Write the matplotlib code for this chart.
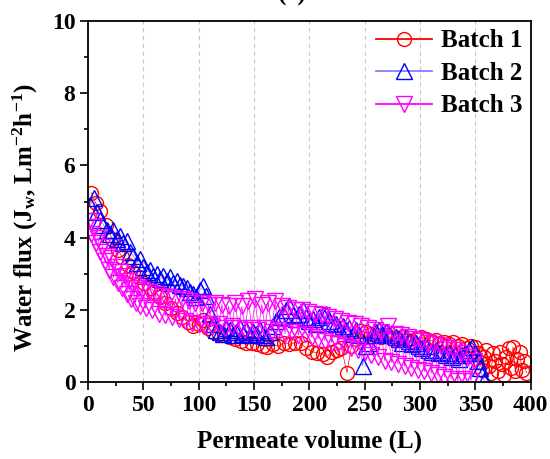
import matplotlib
matplotlib.use("Agg")
import matplotlib.pyplot as plt
from matplotlib.lines import Line2D
from matplotlib.ticker import MultipleLocator

# Serif bold text everywhere, mathtext follows the same font
plt.rcParams["font.family"] = ["Liberation Serif", "DejaVu Serif"]
plt.rcParams["font.weight"] = "bold"
plt.rcParams["mathtext.fontset"] = "custom"
plt.rcParams["mathtext.rm"] = "Liberation Serif:bold"
plt.rcParams["mathtext.it"] = "Liberation Serif:bold"
plt.rcParams["mathtext.bf"] = "Liberation Serif:bold"

# Batch 1: permeate volume (L) and water flux
vol_b1 = [3, 7, 11, 16, 22, 27, 31, 36, 41, 46, 51, 56, 60, 65, 70, 75, 80, 85,
          90, 95, 100, 104, 108, 113, 118, 123, 128, 133, 138, 143, 148, 153,
          158, 162, 167, 172, 177, 182, 187, 192, 197, 202, 207, 212, 216, 220,
          225, 229, 234, 238, 242, 247, 251, 256, 260, 265, 270, 274, 279, 283,
          288, 292, 297, 301, 305, 310, 314, 318, 322, 326, 330, 334, 338, 342,
          346, 350, 352, 354, 356, 358, 360, 362, 364, 366, 368, 370, 372, 374,
          376, 378, 380, 382, 384, 386, 388, 390, 392, 394, 396]
flux_b1 = [5.24, 4.95, 4.74, 4.35, 3.95, 3.65, 3.47, 3.25, 3.05, 2.9, 2.75, 2.62,
           2.5, 2.35, 2.2, 2.05, 1.92, 1.8, 1.67, 1.55, 1.6, 1.72, 1.5, 1.4, 1.35,
           1.3, 1.25, 1.2, 1.15, 1.1, 1.08, 1.05, 1.0, 0.98, 1.05, 1.0, 1.1, 1.05,
           1.1, 1.08, 0.95, 0.85, 0.82, 0.78, 0.7, 0.85, 0.9, 0.95, 0.27, 1.0,
           1.2, 1.42, 1.38, 1.35, 1.3, 1.25, 1.3, 1.22, 1.2, 1.25, 1.18, 1.15,
           1.22, 1.26, 1.2, 1.15, 1.18, 1.1, 1.12, 1.05, 1.12, 1.0, 1.05, 0.95,
           1.0, 0.98, 0.8, 0.55, 0.35, 0.7, 0.9, 0.45, 0.25, 0.8, 0.6, 0.3, 0.85,
           0.5, 0.2, 0.7, 0.95, 0.4, 0.98, 0.3, 0.65, 0.85, 0.35, 0.6, 0.27]

# Batch 2
vol_b2 = [2, 5, 8, 11, 14, 17, 20, 23, 26, 29, 32, 35, 38, 41, 44, 47, 50, 53,
          56, 59, 62, 65, 68, 71, 74, 77, 80, 83, 86, 89, 92, 95, 98, 101, 104,
          107, 110, 113, 116, 119, 122, 125, 128, 131, 134, 137, 140, 143, 146,
          149, 152, 155, 158, 161, 164, 167, 170, 173, 176, 179, 182, 185, 188,
          191, 194, 197, 200, 203, 206, 209, 212, 215, 218, 221, 224, 227, 230,
          233, 236, 239, 242, 245, 248, 251, 254, 257, 260, 263, 266, 269, 272,
          275, 278, 281, 284, 287, 290, 293, 296, 299, 302, 305, 308, 311, 314,
          317, 320, 323, 326, 329, 332, 335, 338, 341, 344, 347, 350, 352, 354,
          356, 358]
flux_b2 = [4.9, 5.1, 4.7, 4.5, 4.35, 4.2, 4.1, 4.2, 3.95, 4.05, 3.85, 3.9, 3.6,
           3.5, 3.3, 3.4, 3.2, 3.05, 3.1, 2.95, 3.0, 2.85, 2.95, 2.8, 2.9, 2.75,
           2.8, 2.7, 2.65, 2.6, 2.5, 2.45, 2.35, 2.55, 2.65, 2.4, 1.9, 1.6, 1.45,
           1.4, 1.35, 1.5, 1.45, 1.3, 1.4, 1.5, 1.35, 1.45, 1.3, 1.4, 1.35, 1.45,
           1.3, 1.25, 1.4, 1.55, 1.7, 1.8, 1.9, 2.0, 2.1, 1.85, 1.75, 1.9, 2.0,
           1.8, 1.7, 1.75, 1.6, 1.8, 1.85, 1.9, 1.7, 1.65, 1.6, 1.5, 1.55, 1.45,
           1.5, 1.35, 1.45, 1.3, 0.45, 1.0, 1.1, 1.3, 1.4, 1.45, 1.35, 1.4, 1.3,
           1.37, 1.25, 1.2, 1.1, 1.25, 1.15, 1.05, 1.1, 1.0, 0.95, 1.0, 0.9, 0.85,
           0.9, 0.8, 0.85, 0.75, 0.8, 0.7, 0.75, 0.65, 0.75, 0.8, 0.9, 0.98, 0.8,
           0.6, 0.4, 0.2, 0.05]

# Batch 3
vol_b3 = [1, 3, 5, 7, 9, 11, 13, 15, 17, 19, 21, 23, 25, 27, 29, 31, 33, 35, 37,
          39, 41, 43, 45, 47, 49, 52, 55, 58, 61, 64, 67, 70, 73, 76, 79, 82, 85,
          88, 91, 94, 97, 100, 103, 106, 109, 112, 115, 118, 121, 124, 127, 130,
          133, 136, 139, 142, 145, 148, 151, 154, 157, 160, 163, 166, 169, 172,
          175, 178, 181, 184, 187, 190, 193, 196, 199, 202, 205, 208, 211, 214,
          217, 220, 223, 226, 229, 232, 235, 238, 241, 244, 247, 250, 253, 256,
          259, 262, 265, 268, 271, 274, 277, 280, 283, 286, 289, 292, 295, 298,
          301, 304, 307, 310, 313, 316, 319, 322, 325, 328, 331, 334, 337, 340,
          343, 346, 349]
flux_b3 = [4.45, 4.1, 4.3, 3.85, 4.0, 3.6, 3.75, 3.35, 3.5, 3.1, 3.45, 2.9, 3.2,
           2.75, 3.05, 2.6, 2.95, 2.45, 2.8, 2.3, 2.7, 2.2, 2.6, 2.1, 2.55, 2.05,
           2.5, 2.0, 2.45, 1.9, 2.4, 1.85, 2.35, 1.8, 2.3, 1.75, 2.3, 1.7, 2.25,
           1.65, 2.2, 1.6, 2.2, 1.55, 2.15, 1.55, 2.2, 1.6, 2.15, 1.5, 2.1, 1.55,
           2.2, 1.5, 2.1, 1.45, 2.25, 1.5, 2.3, 1.45, 2.15, 1.5, 2.2, 1.4, 2.25,
           1.45, 2.1, 1.35, 2.05, 1.4, 2.0, 1.3, 2.0, 1.35, 1.95, 1.25, 1.9, 1.2,
           1.85, 1.15, 1.8, 1.1, 1.75, 1.05, 1.7, 1.0, 1.65, 0.95, 1.6, 0.9, 1.55,
           0.85, 1.5, 0.75, 1.45, 0.7, 1.4, 0.6, 1.55, 0.55, 1.35, 0.5, 1.3, 0.45,
           1.25, 0.4, 1.2, 0.35, 1.15, 0.3, 1.1, 0.25, 1.05, 0.2, 1.0, 0.15, 0.95,
           0.1, 0.9, 0.05, 0.8, 0.1, 0.7, 0.05, 0.6]

fig = plt.figure(figsize=(5.5, 4.59), dpi=100)
ax = fig.add_axes([0.16, 0.167, 0.805, 0.788])

ax.plot(vol_b1, flux_b1, color="red", lw=0.5, marker="o", ms=10,
        mfc="none", mec="red", mew=1.0)
ax.plot(vol_b2, flux_b2, color="#8080ff", lw=0.5, marker="^", ms=11,
        mfc="none", mec="blue", mew=1.0)
ax.plot(vol_b3, flux_b3, color="magenta", lw=0.5, marker="v", ms=11,
        mfc="none", mec="magenta", mew=1.0)

ax.set_xlim(0, 400)
ax.set_ylim(0, 10)
ax.xaxis.set_major_locator(MultipleLocator(50))
ax.xaxis.set_minor_locator(MultipleLocator(25))
ax.yaxis.set_major_locator(MultipleLocator(2))
ax.yaxis.set_minor_locator(MultipleLocator(1))
ax.tick_params(which="major", direction="out", length=6, width=1.2,
               labelsize=17, pad=3)
ax.tick_params(which="minor", direction="out", length=3, width=1.2)
ax.grid(axis="x", which="major", color="#c8c8c8", ls=(0, (4, 3)), lw=0.8)
for s in ax.spines.values():
    s.set_linewidth(1.3)

ax.set_xlabel("Permeate volume (L)", fontsize=18, fontweight="bold", labelpad=10)
ax.set_ylabel("Water flux (J$_w$, Lm$^{-2}$h$^{-1}$)", fontsize=18,
              fontweight="bold")
ax.yaxis.set_label_coords(-0.108, 0.455)

# legend entries with a thicker line through the symbol
handles = [
    Line2D([], [], color="red", lw=1.3, marker="o", ms=10, mfc="none",
           mec="red", mew=1.0),
    Line2D([], [], color="#8080ff", lw=1.3, marker="^", ms=11, mfc="none",
           mec="blue", mew=1.0),
    Line2D([], [], color="magenta", lw=1.3, marker="v", ms=11, mfc="none",
           mec="magenta", mew=1.0),
]
ax.legend(handles, ["Batch 1", "Batch 2", "Batch 3"], loc="upper right",
          fontsize=18, frameon=False, borderaxespad=0, borderpad=0.35,
          handlelength=2.25, handletextpad=0.35, labelspacing=0.38)

# partly cut-off panel title
fig.text(0.505, 1.012, "(c) G", ha="left", va="center", fontsize=18,
         fontweight="bold")

fig.savefig("out.png", dpi=100)
